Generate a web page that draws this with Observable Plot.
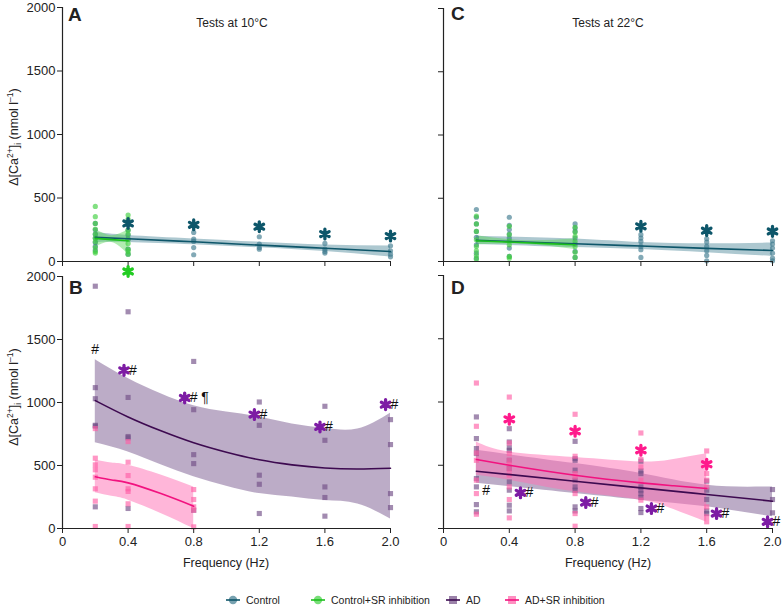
<!DOCTYPE html>
<html><head><meta charset="utf-8">
<script src="https://cdn.jsdelivr.net/npm/d3@7"></script>
<script src="https://cdn.jsdelivr.net/npm/@observablehq/plot@0.6"></script>
<style>
body{margin:0;background:#fff;font-family:"Liberation Sans",Arial,sans-serif;color:#222;}
#root{position:relative;width:782px;height:606px;overflow:hidden;}
.abs{position:absolute;white-space:nowrap;}
.letter{font-weight:bold;font-size:19px;line-height:19px;}
.ttl{font-size:12px;line-height:14px;transform:translateX(-50%);}
.ylab{font-size:12.5px;line-height:14px;transform:translate(-50%,-50%) rotate(-90deg);}
.ylab sup,.ylab sub{font-size:8.5px;}
.xlab{font-size:12.5px;line-height:14px;transform:translateX(-50%);}
.leg{font-size:10.5px;line-height:12px;display:flex;align-items:center;}
.leg svg{margin-right:6px;}
svg [aria-label$="tick label"], svg [aria-label$="tick label"] text{font-size:13px !important;font-family:"Liberation Sans",Arial,sans-serif !important;}
svg .hash, svg .hash text{font-size:14px !important;font-family:"Liberation Sans",Arial,sans-serif !important;}
</style></head><body><div id="root"></div>
<script>
// ---------- data ----------
const xTicks = [0, 0.4, 0.8, 1.2, 1.6, 2.0];
const yTicks = [0, 500, 1000, 1500, 2000];

// Panel A: 10°C, Control and Control+SR inhibition  [frequency, values]
const ctrl10 = [[0.2,[300,250,215,185,150,120,90]],[0.4,[320,248,208,176,97,58]],[0.8,[229,176,158,110,53]],[1.2,[195,137,110,97]],[1.6,[142,97,79,66]],[2.0,[124,84,58,37]]];
const ctrlSR10 = [[0.2,[434,353,300,255,216,184,155,110,79,66]],[0.4,[366,334,300,247,216,176,142,97,79,58]]];
// fits: [x, fit, lower, upper]
const ctrl10Fit = [[0.2,190,150,230],[0.4,179,150,205],[0.8,155,132,178],[1.2,129,108,152],[1.6,104,78,130],[2.0,79,35,122]];
const ctrlSR10Fit = [[0.2,182,110,255],[0.3,172,150,203],[0.4,163,58,250]];
const starsA = [[0.4,300],[0.8,289],[1.2,274],[1.6,216],[2.0,200]];

// Panel B: 10°C, AD and AD+SR inhibition
const ad10 = [[0.2,[1923,1118,1030,819,812,172]],[0.4,[1720,1040,730,720,159]],[0.8,[1326,943,586,515,145]],[1.2,[1004,819,423,351,119]],[1.6,[970,700,330,246,98]],[2.0,[864,666,277,166]]];
const adSR10 = [[0.2,[793,558,505,466,407,315,217,16]],[0.4,[690,526,420,315,294,196,16]],[0.8,[309,230,172,145,13]]];
const ad10Fit = [[0.2,1015,680,1340],[0.4,885,608,1190],[0.6,775,505,1070],[0.8,680,410,975],[1.0,605,335,925],[1.2,545,277,885],[1.4,505,250,830],[1.6,480,222,795],[1.8,472,195,790],[2.0,478,75,915]];
const adSR10Fit = [[0.2,410,283,542],[0.3,385,255,520],[0.4,362,225,502],[0.6,277,120,425],[0.8,177,0,330]];
const greenStarB = [[0.4,2040]];
const starsB = [[0.375,1255,"#"],[0.745,1036,"# ¶"],[1.17,904,"#"],[1.57,806,"#"],[1.97,983,"#"]];
const hashB = [[0.2,1419,"#"]];

// Panel C: 22°C, Control and Control+SR inhibition
const ctrl22 = [[0.2,[411,350,297,238,191,132,66,26]],[0.4,[350,286,252,217,185,106,40]],[0.8,[297,265,238,185,138,80,32]],[1.2,[212,185,159,119,93,32]],[1.6,[180,154,119,85,48,5]],[2.0,[164,138,106,66,26,5]]];
const ctrlSR22 = [[0.2,[358,297,238,172,119,85,48,18]],[0.4,[278,212,164,132,40,26]],[0.8,[270,233,199,159,119,74,32]]];
const ctrl22Fit = [[0.2,167,135,200],[0.8,140,110,178],[1.2,122,95,150],[1.6,104,70,140],[2.0,87,40,146]];
const ctrlSR22Fit = [[0.2,164,132,204],[0.5,148,135,165],[0.8,132,95,180]];
const starsC = [[1.2,278],[1.6,244],[2.0,238]];

// Panel D: 22°C, AD and AD+SR inhibition
const ad22 = [[0.2,[882,711,632,592,395,329,189,132]],[0.4,[789,684,639,618,539,474,368,303,184,139]],[0.8,[689,553,539,461,382,329,303,171,139]],[1.2,[532,455,434,329,303,276,245,158,126]],[1.6,[374,303,229,139,118]],[2.0,[308,229,124]]];
const adSR22 = [[0.2,[1150,808,597,539,382,276,113]],[0.4,[1039,676,592,539,508,466,421,329,229,84]],[0.8,[903,571,434,408,276,118,18]],[1.2,[755,545,487,382,224]],[1.6,[613,434,382,329,171,92,53]]];
const ad22Fit = [[0.2,453,358,618],[0.8,374,276,513],[1.2,321,224,434],[1.6,269,171,342],[2.0,216,92,329]];
const adSR22Fit = [[0.2,545,421,684],[0.4,500,382,605],[0.8,421,290,561],[1.2,361,224,526],[1.4,338,150,545],[1.6,316,50,590]];
const pinkStarsD = [[0.4,863],[0.8,768],[1.2,618],[1.6,508]];
const starsD = [[0.468,282,"#"],[0.865,205,"#"],[1.264,158,"#"],[1.66,118,"#"],[1.97,53,"#"]];
const hashD = [[0.26,297,"#"]];

// ---------- colours ----------
const C = {
  ctrl:{line:"#0e566a", pt:"#3f7b8f", band:"#4a8496", star:"#0d566a"},
  green:{line:"#1cbf1c", pt:"#3fd03f", band:"#55d455", star:"#22cc22"},
  ad:{line:"#3d0a50", pt:"#704d85", band:"#7a5a8f"},
  pink:{line:"#f2127f", pt:"#ff5fa6", band:"#ff6eb4", star:"#ff1a8c"},
  purple:"#7d1ca4"
};

// ---------- helpers ----------
const pts = g => g.flatMap(([x, ys]) => ys.map(y => ({x, y})));
const fit = r => r.map(([x, y, lo, hi]) => ({x, y, lo, hi}));
const xy = r => r.map(([x, y, t]) => ({x, y, t}));

function band(rows, col, op) {
  return Plot.areaY(fit(rows), {x:"x", y1:"lo", y2:"hi", fill:col, fillOpacity:op, curve:"natural"});
}
function fline(rows, col) {
  return Plot.line(fit(rows), {x:"x", y:"y", stroke:col, strokeWidth:1.6, curve:"natural"});
}
function circles(g, col) {
  return Plot.dot(pts(g), {x:"x", y:"y", r:2.6, fill:col, fillOpacity:0.65, stroke:"none"});
}
function squares(g, col) {
  return Plot.dot(pts(g), {x:"x", y:"y", r:2.9, symbol:"square", fill:col, fillOpacity:0.65, stroke:"none"});
}
function stars(rows, col) {
  return Plot.dot(xy(rows), {x:"x", y:"y", r:4.6, symbol:"asterisk", stroke:col, strokeWidth:3.3, strokeLinecap:"round"});
}
function hashes(rows, dx) {
  return Plot.text(xy(rows), {x:"x", y:"y", text:"t", dx, textAnchor:"start", fontSize:14, fill:"#111", className:"hash"});
}

const root = document.getElementById("root");
function panel({left, top, width, height, mt, mb, ml, mr, yLab, xLab, marks}) {
  const fmt = d => d === 0 ? "0" : d3.format(".1f")(d);
  const p = Plot.plot({
    width, height, marginTop:mt, marginBottom:mb, marginLeft:ml, marginRight:mr,
    x:{domain:[0,2]}, y:{domain:[0,2000]},
    style:{fontFamily:"Liberation Sans, Arial, sans-serif", fontSize:"13px", color:"#222", background:"transparent", overflow:"visible"},
    marks:[
      ...marks,
      Plot.axisX(xTicks, {tickSize:5, tickPadding:3, tickFormat: xLab ? fmt : () => "", label:null, fontSize:13}),
      Plot.axisY(yTicks, {tickSize:5, tickPadding:2, tickFormat: yLab ? d => String(d) : () => "", label:null, fontSize:13}),
      Plot.ruleX([0], {stroke:"#222", strokeWidth:1.2}),
      Plot.ruleY([0], {stroke:"#222", strokeWidth:1.2})
    ]
  });
  const d = document.createElement("div");
  d.className = "abs";
  d.style.left = left + "px"; d.style.top = top + "px";
  d.appendChild(p);
  root.appendChild(d);
}

// Panel A
panel({left:0, top:0, width:400, height:275, mt:7, mb:14, ml:62, mr:10, yLab:true, xLab:false, marks:[
  band(ctrl10Fit, C.ctrl.band, 0.45),
  band(ctrlSR10Fit, C.green.band, 0.45),
  circles(ctrl10, C.ctrl.pt),
  circles(ctrlSR10, C.green.pt),
  fline(ctrl10Fit, C.ctrl.line),
  fline(ctrlSR10Fit, C.green.line),
  stars(starsA, C.ctrl.star)
]});
// Panel B
panel({left:0, top:262, width:400, height:290, mt:14, mb:24, ml:62, mr:10, yLab:true, xLab:true, marks:[
  band(ad10Fit, C.ad.band, 0.5),
  band(adSR10Fit, C.pink.band, 0.5),
  squares(ad10, C.ad.pt),
  squares(adSR10, C.pink.pt),
  fline(ad10Fit, C.ad.line),
  fline(adSR10Fit, C.pink.line),
  stars(greenStarB, C.green.star),
  stars(starsB, C.purple),
  hashes(starsB, 5),
  hashes(hashB, -4)
]});
// Panel C
panel({left:390, top:0, width:392, height:275, mt:8, mb:14, ml:53, mr:10, yLab:false, xLab:false, marks:[
  band(ctrl22Fit, C.ctrl.band, 0.45),
  band(ctrlSR22Fit, C.green.band, 0.45),
  circles(ctrl22, C.ctrl.pt),
  circles(ctrlSR22, C.green.pt),
  fline(ctrl22Fit, C.ctrl.line),
  fline(ctrlSR22Fit, C.green.line),
  stars(starsC, C.ctrl.star)
]});
// Panel D
panel({left:390, top:262, width:392, height:290, mt:13, mb:24, ml:53, mr:10, yLab:false, xLab:true, marks:[
  band(ad22Fit, C.ad.band, 0.5),
  band(adSR22Fit, C.pink.band, 0.5),
  squares(ad22, C.ad.pt),
  squares(adSR22, C.pink.pt),
  fline(ad22Fit, C.ad.line),
  fline(adSR22Fit, C.pink.line),
  stars(pinkStarsD, C.pink.star),
  stars(starsD, C.purple),
  hashes(starsD, 5),
  hashes(hashD, -4)
]});

// ---------- text ----------
function add(cls, html, left, top) {
  const d = document.createElement("div");
  d.className = "abs " + cls; d.innerHTML = html;
  d.style.left = left + "px"; d.style.top = top + "px";
  root.appendChild(d);
  return d;
}
add("letter", "A", 68, 5);
add("letter", "B", 69, 278);
add("letter", "C", 451, 4);
add("letter", "D", 451, 278);
add("ttl", "Tests at 10°C", 232, 16);
add("ttl", "Tests at 22°C", 608, 16);
const yl = 'Δ[Ca<sup>2+</sup>]<sub>i</sub> (nmol l<sup>–1</sup>)';
add("ylab", yl, 14, 137);
add("ylab", yl, 14, 397);
add("xlab", "Frequency (Hz)", 226, 556);
add("xlab", "Frequency (Hz)", 608, 556);

// ---------- legend ----------
const legendItems = [
  {label:"Control", col:C.ctrl, sym:"circle", x:226},
  {label:"Control+SR inhibition", col:C.green, sym:"circle", x:311},
  {label:"AD", col:C.ad, sym:"square", x:446},
  {label:"AD+SR inhibition", col:C.pink, sym:"square", x:505}
];
for (const it of legendItems) {
  const shape = it.sym === "circle"
    ? `<circle cx="7" cy="5" r="4.2" fill="${it.col.pt}" fill-opacity="0.7"/>`
    : `<rect x="3" y="1" width="8" height="8" fill="${it.col.pt}" fill-opacity="0.7"/>`;
  const svg = `<svg width="14" height="10">${shape}<line x1="0" y1="5" x2="14" y2="5" stroke="${it.col.line}" stroke-width="1.6"/></svg>`;
  add("leg", svg + it.label, it.x, 594);
}
</script></body></html>
